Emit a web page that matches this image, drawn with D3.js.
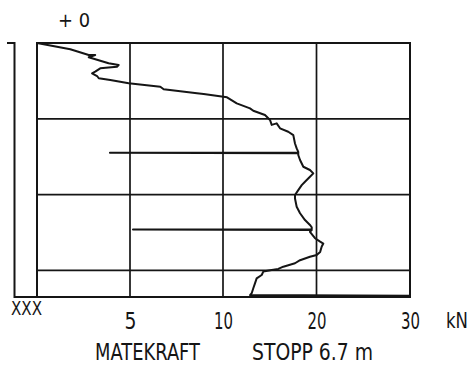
<!DOCTYPE html>
<html><head><meta charset="utf-8">
<script src="https://cdn.jsdelivr.net/npm/d3@7"></script>
<style>
body{margin:0;background:#fff}
text{font-family:"DejaVu Sans","Liberation Sans",sans-serif;fill:#151515}
</style>
</head><body>
<svg id="c" width="474" height="368"></svg>
<script>
// depth (m) and force (kN) of the recorded trace
const depthM = [0,0.166,0.317,0.317,0.377,0.536,0.580,0.625,0.668,0.757,0.80,0.871,0.93,0.976,1.063,1.153,1.222,1.327,1.346,1.433,1.591,1.723,1.786,1.90,2.03,2.16,2.12,2.25,2.34,2.43,2.65,2.78,2.87,2.894,2.894,2.91,2.955,3.087,3.264,3.35,3.44,3.53,3.66,3.75,3.88,4.01,4.10,4.32,4.49,4.67,4.80,4.86,4.92,4.92,4.935,4.98,5.15,5.24,5.29,5.37,5.51,5.59,5.64,5.73,5.81,5.90,5.96,5.99,6.03,6.12,6.21,6.34,6.47,6.60,6.65,6.665];
const forceKN = [0,1.79,2.78,3.13,2.78,3.85,4.39,4.30,3.40,3.13,2.96,3.23,3.32,3.94,4.93,6.63,6.81,8.60,8.96,10.43,11.47,12.89,13.24,14.49,15.03,15.21,15.74,16.10,16.98,17.52,17.70,17.88,18.05,18.05,3.92,18.05,18.05,18.24,18.59,19.30,19.66,19.30,18.77,18.42,18.05,17.70,17.70,17.88,18.24,18.77,19.30,19.49,19.49,5.16,19.49,19.30,19.84,20.39,20.73,20.56,20.39,20.02,19.30,18.24,17.70,16.45,15.91,15.21,14.31,14.14,13.60,13.42,13.24,13.07,12.89,30];
const xTicks = [5,10,20,30];
const depthGrid = [2,4,6];
const stopDepth = 6.7;
const topLabel = "+ 0";
const cornerLabel = "XXX";
const unitLabel = "kN";
const xLabel = "MATEKRAFT";
const stopLabel = "STOPP 6.7 m";

const svg = d3.select("#c");
const x = d3.scaleLinear().domain([0,10,30]).range([37,223,410]);
const y = d3.scaleLinear().domain([0,stopDepth]).range([43,297]);
const ink = "#151515";

// grid
const g = svg.append("g").attr("stroke", ink).attr("fill","none");
g.selectAll("line.v").data(xTicks.filter(d=>d<30)).join("line")
  .attr("x1", d=>x(d)).attr("x2", d=>x(d)).attr("y1", y(0)).attr("y2", y(stopDepth))
  .attr("stroke-width", 1.7);
g.selectAll("line.h").data(depthGrid).join("line")
  .attr("x1", x(0)).attr("x2", x(30)).attr("y1", d=>y(d)).attr("y2", d=>y(d))
  .attr("stroke-width", 1.7);
g.append("rect").attr("x", x(0)).attr("y", y(0)).attr("width", x(30)-x(0)).attr("height", y(stopDepth)-y(0))
  .attr("stroke-width", 2);

// left depth bar
const barX = 14.5;
g.append("path").attr("stroke-width", 2)
  .attr("d", `M7,${y(0)}H${barX}V${y(stopDepth)}H${x(0)}`);

// trace
const pts = depthM.map((d,i)=>[x(forceKN[i]), y(d)]);
svg.append("path").attr("d", d3.line()(pts)).attr("fill","none")
  .attr("stroke", ink).attr("stroke-width", 2).attr("stroke-linejoin","round");

// x axis labels
const ax = svg.append("g").attr("transform", `translate(0,${y(stopDepth)})`)
  .call(d3.axisBottom(x).tickValues(xTicks).tickSize(0).tickFormat(d3.format("d")));
ax.select(".domain").remove();
ax.selectAll("text").attr("y", 32).attr("dy", 0)
  .attr("font-size", 23).attr("font-family", null).attr("fill", ink)
  .attr("textLength", d => d < 10 ? 12 : 19).attr("lengthAdjust","spacingAndGlyphs");

function label(t, x0, base, w, fs){
  svg.append("text").attr("x", x0).attr("y", base).attr("font-size", fs)
    .attr("textLength", w).attr("lengthAdjust","spacingAndGlyphs").text(t);
}
label(topLabel, 58, 27, 32, 19);
label(cornerLabel, 11, 315, 31, 20);
label(unitLabel, 446, 328, 22, 22);
label(xLabel, 95, 360, 105, 23);
label(stopLabel, 252, 360, 121, 23);
</script>
</body></html>
